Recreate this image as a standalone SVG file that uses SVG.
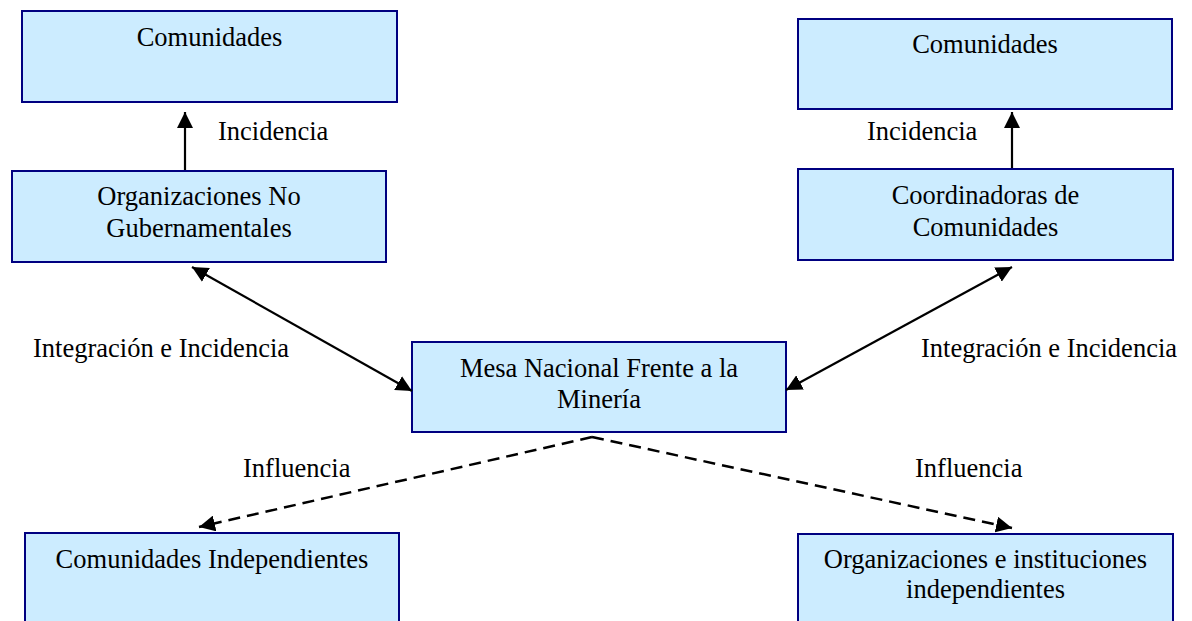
<svg xmlns="http://www.w3.org/2000/svg" width="1192" height="621" viewBox="0 0 1192 621">
  <style>
    .box { fill: #CCECFF; stroke: #000080; stroke-width: 2; }
    .t { font-family: "Liberation Serif", "Times New Roman", serif; font-size: 26.5px; fill: #000; text-anchor: middle; }
    .lbl { font-family: "Liberation Serif", "Times New Roman", serif; font-size: 26.5px; fill: #000; }
    .solid { stroke: #000; stroke-width: 2.2; fill: none; }
    .dash { stroke: #000; stroke-width: 2.5; fill: none; stroke-dasharray: 12 7; }
  </style>
  <defs>
    <marker id="ah" markerUnits="userSpaceOnUse" markerWidth="17" markerHeight="16" refX="16" refY="8" orient="auto-start-reverse">
      <path d="M0,0 L16,8 L0,16 Z" fill="#000" stroke="none"/>
    </marker>
  </defs>
  <rect width="1192" height="621" fill="#fff"/>

  <g id="n-comunidades-left">
    <rect class="box" x="22" y="11" width="375" height="91"/>
    <text class="t" x="209.5" y="46">Comunidades</text>
  </g>
  <g id="n-comunidades-right">
    <rect class="box" x="798" y="19" width="374" height="90"/>
    <text class="t" x="985" y="53">Comunidades</text>
  </g>
  <g id="n-ong">
    <rect class="box" x="12" y="171" width="374" height="91"/>
    <text class="t" x="199" y="205">Organizaciones No</text>
    <text class="t" x="199" y="237">Gubernamentales</text>
  </g>
  <g id="n-coordinadoras">
    <rect class="box" x="798" y="169" width="375" height="91"/>
    <text class="t" x="985.5" y="204">Coordinadoras de</text>
    <text class="t" x="985.5" y="236">Comunidades</text>
  </g>
  <g id="n-mesa">
    <rect class="box" x="412" y="342" width="374" height="90"/>
    <text class="t" x="599" y="377">Mesa Nacional Frente a la</text>
    <text class="t" x="599" y="408">Minería</text>
  </g>
  <g id="n-comunidades-indep">
    <rect class="box" x="25" y="533" width="374" height="100"/>
    <text class="t" x="212" y="568">Comunidades Independientes</text>
  </g>
  <g id="n-org-indep">
    <rect class="box" x="798" y="534" width="375" height="100"/>
    <text class="t" x="985.5" y="568">Organizaciones e instituciones</text>
    <text class="t" x="985.5" y="598">independientes</text>
  </g>

  <g id="connectors">
    <line class="solid" x1="185" y1="170" x2="185" y2="112" marker-end="url(#ah)"/>
    <line class="solid" x1="1012" y1="168" x2="1012" y2="112" marker-end="url(#ah)"/>
    <line class="solid" x1="192" y1="267" x2="412" y2="391" marker-start="url(#ah)" marker-end="url(#ah)"/>
    <line class="solid" x1="1012" y1="267" x2="786" y2="390" marker-start="url(#ah)" marker-end="url(#ah)"/>
    <line class="dash" x1="592" y1="437" x2="199" y2="527" marker-end="url(#ah)"/>
    <line class="dash" x1="592" y1="437" x2="1012" y2="528" marker-end="url(#ah)"/>
  </g>

  <g id="labels">
    <text class="lbl" x="218" y="140">Incidencia</text>
    <text class="lbl" x="867" y="140">Incidencia</text>
    <text class="lbl" x="33" y="357">Integración e Incidencia</text>
    <text class="lbl" x="921" y="357">Integración e Incidencia</text>
    <text class="lbl" x="243" y="477">Influencia</text>
    <text class="lbl" x="915" y="477">Influencia</text>
  </g>
</svg>
